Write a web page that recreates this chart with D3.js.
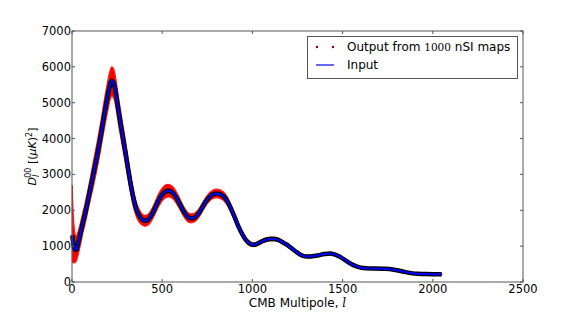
<!DOCTYPE html>
<html>
<head>
<meta charset="utf-8">
<script src="https://cdn.jsdelivr.net/npm/d3@7"></script>
<style>
  body { margin: 0; background: #fff; }
  svg { display: block; }
  text { font-family: "DejaVu Sans", sans-serif; fill: #000; }
</style>
</head>
<body>
<div id="chart"></div>
<script>
// multipoles
var ells = [2, 5, 10, 15, 20, 25, 30, 40, 50, 60, 70, 80, 90, 100, 120, 140, 160, 180, 200, 210,
  220, 230, 240, 260, 280, 300, 320, 340, 360, 380, 400, 420, 440, 460, 480, 500, 520, 540, 560, 580,
  600, 620, 640, 660, 680, 700, 720, 740, 760, 780, 800, 820, 840, 860, 880, 900, 920, 940, 960, 980,
  1000, 1020, 1040, 1060, 1080, 1100, 1120, 1140, 1160, 1180, 1200, 1240, 1280, 1320, 1360, 1400, 1440, 1480, 1520, 1560,
  1600, 1640, 1680, 1720, 1760, 1800, 1840, 1880, 1920, 1960, 2000, 2049];

// input spectrum
var inputD = [1300, 1150, 1000, 920, 895, 905, 1000, 1200, 1420, 1650, 1850, 2080, 2320, 2560, 3050, 3550, 4100, 4700, 5250, 5480,
  5613, 5560, 5350, 4700, 4100, 3500, 2880, 2350, 1980, 1790, 1710, 1730, 1860, 2060, 2280, 2440, 2530, 2545, 2480, 2340,
  2150, 1960, 1820, 1775, 1800, 1900, 2060, 2230, 2360, 2440, 2470, 2450, 2390, 2260, 2060, 1830, 1580, 1370, 1200, 1090,
  1040, 1050, 1100, 1150, 1185, 1200, 1200, 1180, 1130, 1070, 1010, 850, 730, 712, 740, 780, 790, 720, 590, 470,
  400, 380, 375, 370, 362, 330, 285, 248, 228, 220, 216, 214];

// spread of the 1000 output maps
var outUpper = [2700, 2100, 1650, 1400, 1300, 1280, 1350, 1520, 1720, 1940, 2140, 2380, 2620, 2870, 3400, 3920, 4480, 5100, 5650, 5880,
  6000, 5950, 5750, 5080, 4450, 3820, 3160, 2600, 2180, 1960, 1860, 1880, 2020, 2230, 2460, 2620, 2710, 2720, 2650, 2500,
  2300, 2100, 1950, 1900, 1920, 2020, 2180, 2350, 2480, 2560, 2590, 2570, 2510, 2380, 2170, 1930, 1670, 1450, 1270, 1150,
  1090, 1100, 1150, 1200, 1235, 1250, 1250, 1225, 1175, 1115, 1050, 885, 765, 745, 772, 812, 820, 750, 618, 496,
  425, 406, 402, 397, 388, 354, 306, 268, 246, 237, 232, 230];
var outLower = [600, 540, 530, 540, 560, 600, 680, 880, 1110, 1360, 1560, 1780, 2020, 2250, 2700, 3180, 3720, 4300, 4820, 5060,
  5180, 5140, 4950, 4320, 3750, 3180, 2600, 2100, 1780, 1620, 1560, 1580, 1700, 1890, 2100, 2260, 2350, 2370, 2310, 2180,
  2000, 1820, 1690, 1650, 1680, 1780, 1940, 2110, 2240, 2320, 2350, 2330, 2270, 2140, 1950, 1730, 1490, 1290, 1130, 1030,
  990, 1000, 1050, 1100, 1135, 1150, 1150, 1135, 1085, 1025, 970, 815, 695, 680, 708, 748, 760, 690, 562, 444,
  375, 354, 348, 343, 336, 306, 264, 228, 210, 203, 200, 198];

var xTicks = [0, 500, 1000, 1500, 2000, 2500];
var yTicks = [0, 1000, 2000, 3000, 4000, 5000, 6000, 7000];

var W = 581, H = 314;
var margin = {left: 72, right: 58, top: 31, bottom: 32};

var svg = d3.select("#chart").append("svg")
  .attr("width", W)
  .attr("height", H);

var xScale = d3.scaleLinear().domain([0, 2500]).range([margin.left, W - margin.right]);
var yScale = d3.scaleLinear().domain([0, 7000]).range([H - margin.bottom, margin.top]);

var pts = ells.map(function(l, i) {
  return {l: l, d: inputD[i], hi: outUpper[i], lo: outLower[i]};
});

// red band of output maps
var band = d3.area()
  .curve(d3.curveCatmullRom)
  .x(function(d) { return xScale(d.l); })
  .y0(function(d) { return yScale(d.lo); })
  .y1(function(d) { return yScale(d.hi); });

svg.append("path")
  .datum(pts)
  .attr("d", band)
  .attr("fill", "#ff0000")
  .attr("stroke", "#ff1a1a")
  .attr("stroke-width", 1.2);

var line = d3.line()
  .curve(d3.curveCatmullRom)
  .x(function(d) { return xScale(d.l); })
  .y(function(d) { return yScale(d.d); });

svg.append("path")
  .datum(pts)
  .attr("d", line)
  .attr("fill", "none")
  .attr("stroke", "#000")
  .attr("stroke-width", 4.5)
  .attr("stroke-linejoin", "round");

svg.append("path")
  .datum(pts)
  .attr("d", line)
  .attr("fill", "none")
  .attr("stroke", "#0000ff")
  .attr("stroke-width", 2)
  .attr("stroke-linejoin", "round");

// axes box, ticks pointing inward
var axisCol = "#555";
var x0 = xScale(0), x1 = xScale(2500), y0 = yScale(0), y1 = yScale(7000);

svg.append("rect")
  .attr("x", x0).attr("y", y1)
  .attr("width", x1 - x0).attr("height", y0 - y1)
  .attr("fill", "none")
  .attr("stroke", axisCol)
  .attr("stroke-width", 1);

var tickLen = 3;
xTicks.forEach(function(t) {
  var x = xScale(t);
  svg.append("line").attr("x1", x).attr("x2", x).attr("y1", y0).attr("y2", y0 - tickLen)
    .attr("stroke", axisCol);
  svg.append("line").attr("x1", x).attr("x2", x).attr("y1", y1).attr("y2", y1 + tickLen)
    .attr("stroke", axisCol);
  svg.append("text")
    .attr("x", x).attr("y", y0 + 11)
    .attr("text-anchor", "middle")
    .attr("font-size", "11.5px")
    .text(t);
});

yTicks.forEach(function(t) {
  var y = yScale(t);
  svg.append("line").attr("x1", x0).attr("x2", x0 + tickLen).attr("y1", y).attr("y2", y)
    .attr("stroke", axisCol);
  svg.append("line").attr("x1", x1).attr("x2", x1 - tickLen).attr("y1", y).attr("y2", y)
    .attr("stroke", axisCol);
  svg.append("text")
    .attr("x", x0 - 1).attr("y", y + 4)
    .attr("text-anchor", "end")
    .attr("font-size", "11.5px")
    .text(t);
});

// x label
var xl = svg.append("text")
  .attr("x", (x0 + x1) / 2).attr("y", 307)
  .attr("text-anchor", "middle")
  .attr("font-size", "12px");
xl.append("tspan").text("CMB Multipole, ");
xl.append("tspan").attr("font-family", "DejaVu Serif").attr("font-style", "italic").text("l");

// y label
var yl = svg.append("text")
  .attr("transform", "translate(36," + ((y0 + y1) / 2) + ") rotate(-90)")
  .attr("text-anchor", "middle")
  .attr("font-family", "DejaVu Serif")
  .attr("font-size", "11px")
  .attr("fill", "#333");
yl.append("tspan").attr("font-style", "italic").text("D");
yl.append("tspan").attr("font-style", "italic").attr("font-size", "8px").attr("dy", 3).text("l");
yl.append("tspan").attr("font-size", "8px").attr("dx", -3).attr("dy", -8).text("00");
yl.append("tspan").attr("dy", 5).text(" [(");
yl.append("tspan").attr("font-style", "italic").text("\u03bcK");
yl.append("tspan").text(")");
yl.append("tspan").attr("font-size", "8px").attr("dy", -4).text("2");
yl.append("tspan").attr("dy", 4).text("]");

// legend
var lg = svg.append("g");
lg.append("rect")
  .attr("x", 307.5).attr("y", 36.5)
  .attr("width", 210).attr("height", 42)
  .attr("fill", "#fff")
  .attr("stroke", axisCol);

[317, 333].forEach(function(cx) {
  lg.append("circle").attr("cx", cx).attr("cy", 47).attr("r", 1.2).attr("fill", "#8b0000");
});
var t1 = lg.append("text").attr("x", 347).attr("y", 51).attr("font-size", "12px");
t1.append("tspan").text("Output from ");
t1.append("tspan").attr("font-family", "DejaVu Serif").attr("font-size", "10.5px").text("1000");
t1.append("tspan").text(" nSI maps");

lg.append("line").attr("x1", 316).attr("x2", 334).attr("y1", 65).attr("y2", 65)
  .attr("stroke", "#0000ff").attr("stroke-width", 1.2);
lg.append("text").attr("x", 347).attr("y", 69).attr("font-size", "12px").text("Input");
</script>
</body>
</html>
